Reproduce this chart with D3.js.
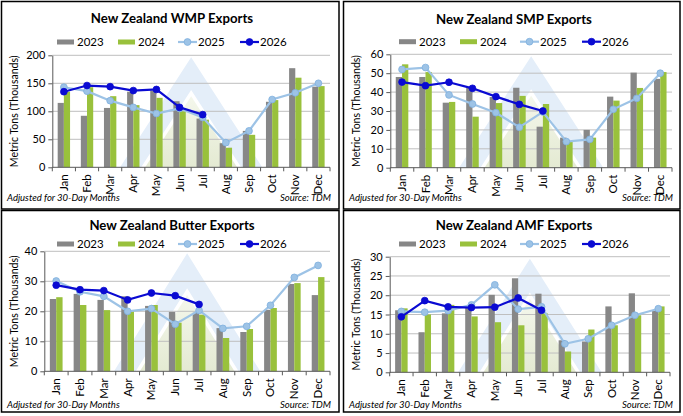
<!DOCTYPE html>
<html>
<head>
<meta charset="utf-8">
<script src="https://cdn.jsdelivr.net/npm/d3@7"></script>
<style>
  html, body { margin: 0; padding: 0; background: #fff; }
  svg { display: block; font-family: Lato, Carlito, Calibri, sans-serif; }
</style>
</head>
<body>
<svg id="chart" width="683" height="416"></svg>
<script>
// Data (thousand metric tons)
const months = ['Jan', 'Feb', 'Mar', 'Apr', 'May', 'Jun', 'Jul', 'Aug', 'Sep', 'Oct', 'Nov', 'Dec'];
const years = ['2023', '2024', '2025', '2026'];

const wmp2023 = [115, 92, 106, 135, 137, 118, 87, 43, 65, 117, 177, 144];
const wmp2024 = [135, 143, 127, 111, 124, 100, 85, 35, 58, 120, 160, 145];
const wmp2025 = [143, 136, 119, 107, 96, 105, 89, 44, 65, 121, 133, 150];
const wmp2026 = [135, 146, 144, 137, 139, 107, 94];

const smp2023 = [48, 48, 34.4, 42.5, 37.4, 42.3, 21.7, 15.9, 20, 37.6, 50.3, 47];
const smp2024 = [54.7, 50.6, 34.8, 27, 34.2, 38, 33.7, 13.8, 15.9, 35.5, 42.2, 50.6];
const smp2025 = [52, 53, 38.5, 33.7, 29.1, 21.4, 29.5, 13.8, 15, 30.9, 36.7, 50];
const smp2026 = [45.3, 43.4, 45.2, 42, 37.6, 33.5, 30];

const butter2023 = [24.1, 25.8, 23.8, 25, 21.8, 19.8, 19.5, 14.4, 13.1, 20.5, 29.1, 25.4];
const butter2024 = [24.7, 22.1, 20.4, 20, 22.1, 16.2, 18.9, 11.1, 14.1, 21.1, 29.4, 31.4];
const butter2025 = [30.1, 26.5, 25, 20, 20.9, 15.7, 20.3, 14.3, 15, 22, 31.3, 35.3];
const butter2026 = [28.7, 27.2, 26.9, 23.8, 26.1, 25.2, 22.3];

const amf2023 = [16.1, 10.4, 15.3, 16.7, 20.1, 24.4, 20.4, 8.3, 8, 17.1, 20.5, 16];
const amf2024 = [16.6, 15, 17.5, 14.5, 13, 12.2, 15.3, 5.4, 11.1, 12.2, 14.8, 17.1];
const amf2025 = [15.8, 15.6, 16, 17.5, 22.7, 16.4, 17, 7.4, 8.7, 12.2, 14.8, 16.5];
const amf2026 = [14.4, 18.6, 17, 16.8, 16.9, 19.3, 16.1];

const titles = ['New Zealand WMP Exports', 'New Zealand SMP Exports', 'New Zealand Butter Exports', 'New Zealand AMF Exports'];
const yTicks = [
  [0, 50, 100, 150, 200],
  [0, 10, 20, 30, 40, 50, 60],
  [0, 10, 20, 30, 40],
  [0, 5, 10, 15, 20, 25, 30]
];

const colors = { '2023': '#878787', '2024': '#99c13c', '2025': '#9dc3e6', '2026': '#0a0ad2' };

// panel frames and inner layout (relative to each panel)
const panels = [
  { x: 0, y: 0, w: 339, h: 209, left: 52.3, right: 330, top: 55.3, bottom: 167.3, titleY: 23, legendY: 42, footY: 201,
    series: [wmp2023, wmp2024, wmp2025, wmp2026] },
  { x: 342, y: 0, w: 338, h: 209, left: 48.3, right: 330, top: 54.3, bottom: 167.7, titleY: 24, legendY: 41.7, footY: 201,
    series: [smp2023, smp2024, smp2025, smp2026] },
  { x: 0, y: 209, w: 339, h: 203, left: 44.3, right: 330, top: 42.3, bottom: 162.3, titleY: 21, legendY: 35, footY: 198.5,
    series: [butter2023, butter2024, butter2025, butter2026] },
  { x: 342, y: 209, w: 338, h: 203, left: 47.7, right: 328, top: 47.7, bottom: 163.3, titleY: 20.5, legendY: 35, footY: 198.5,
    series: [amf2023, amf2024, amf2025, amf2026] }
];

const svg = d3.select('#chart');
const defs = svg.append('defs');
const grad = defs.append('linearGradient').attr('id', 'wmGreen')
  .attr('x1', 0).attr('y1', 1).attr('x2', 0).attr('y2', 0);
grad.append('stop').attr('offset', '0%').attr('stop-color', '#e4ead2');
grad.append('stop').attr('offset', '100%').attr('stop-color', '#f4f7ec');

panels.forEach((p, i) => {
  const g = svg.append('g').attr('transform', `translate(${p.x},${p.y})`);

  // frame
  g.append('rect')
    .attr('x', 1.5).attr('y', 1.5)
    .attr('width', p.w - 1.5).attr('height', p.h - 1.5)
    .attr('fill', '#fff').attr('stroke', '#000').attr('stroke-width', 1.5);

  const ticks = yTicks[i];
  const x = d3.scaleBand().domain(months).range([p.left, p.right]);
  const xs = d3.scaleBand().domain(['2023', '2024']).range([0, x.bandwidth()]).paddingOuter(0.87);
  const y = d3.scaleLinear().domain([0, ticks[ticks.length - 1]]).range([p.bottom, p.top]);

  // watermark
  const cx = (p.left + p.right) / 2;
  const pw = p.right - p.left;
  const ph = p.bottom - p.top - 2;
  const ow = 0.256 * pw, iw = 0.18 * pw;
  const ih = ph * iw / ow;
  g.append('path')
    .attr('d', `M${cx - ow},${p.bottom}L${cx},${p.bottom - ph}L${cx + ow},${p.bottom}Z` +
               `M${cx - iw},${p.bottom}L${cx},${p.bottom - ih}L${cx + iw},${p.bottom}Z`)
    .attr('fill', '#e4eef9').attr('fill-rule', 'evenodd');
  const gw = iw * 0.92, gh = ih * 0.92;
  g.append('path')
    .attr('d', `M${cx - gw},${p.bottom}L${cx},${p.bottom - gh}L${cx + gw},${p.bottom}Z`)
    .attr('fill', 'url(#wmGreen)');

  // gridlines
  g.append('g').selectAll('line')
    .data(ticks.slice(1))
    .join('line')
    .attr('x1', p.left).attr('x2', p.right)
    .attr('y1', d => y(d)).attr('y2', d => y(d))
    .attr('stroke', '#bfbfbf').attr('stroke-width', 1);

  // bars
  ['2023', '2024'].forEach((yr, k) => {
    g.append('g').selectAll('rect')
      .data(p.series[k])
      .join('rect')
      .attr('x', (d, j) => x(months[j]) + xs(yr))
      .attr('width', xs.bandwidth())
      .attr('y', d => y(d))
      .attr('height', d => y(0) - y(d))
      .attr('fill', colors[yr]);
  });

  // lines
  const line = d3.line()
    .x((d, j) => x(months[j]) + x.bandwidth() / 2)
    .y(d => y(d));
  [['2025', p.series[2], '#7fb0de'], ['2026', p.series[3], colors['2026']]].forEach(([yr, vals, edge]) => {
    g.append('path')
      .datum(vals)
      .attr('d', line)
      .attr('fill', 'none')
      .attr('stroke', colors[yr])
      .attr('stroke-width', 2.2);
    g.append('g').selectAll('circle')
      .data(vals)
      .join('circle')
      .attr('cx', (d, j) => x(months[j]) + x.bandwidth() / 2)
      .attr('cy', d => y(d))
      .attr('r', 3.4)
      .attr('fill', colors[yr])
      .attr('stroke', edge)
      .attr('stroke-width', 0.8);
  });

  // y axis
  const yAxis = g.append('g')
    .attr('transform', `translate(${p.left},0)`)
    .call(d3.axisLeft(y).tickValues(ticks).tickSize(4).tickPadding(3).tickSizeOuter(0));
  yAxis.select('.domain').attr('stroke', '#595959');
  yAxis.selectAll('.tick line').attr('stroke', '#595959');
  yAxis.selectAll('.tick text')
    .attr('font-family', 'Lato, Carlito, Calibri, sans-serif')
    .attr('font-size', 11).attr('fill', '#000');

  // x axis
  g.append('line')
    .attr('x1', p.left).attr('x2', p.right)
    .attr('y1', p.bottom).attr('y2', p.bottom)
    .attr('stroke', '#595959');
  g.append('g').selectAll('line')
    .data(months.concat(['end']))
    .join('line')
    .attr('x1', (d, j) => p.left + j * x.step())
    .attr('x2', (d, j) => p.left + j * x.step())
    .attr('y1', p.bottom).attr('y2', p.bottom + 4)
    .attr('stroke', '#595959');
  g.append('g').selectAll('text')
    .data(months)
    .join('text')
    .attr('transform', d => `translate(${x(d) + x.bandwidth() / 2 + 4},${p.bottom + 7}) rotate(-90)`)
    .attr('text-anchor', 'end')
    .attr('font-size', 11.5)
    .text(d => d);

  // y label
  g.append('text')
    .attr('transform', `translate(17.5,${(p.top + p.bottom) / 2}) rotate(-90)`)
    .attr('text-anchor', 'middle')
    .attr('font-size', 10.5)
    .text('Metric Tons (Thousands)');

  // title
  g.append('text')
    .attr('x', 172).attr('y', p.titleY)
    .attr('text-anchor', 'middle')
    .attr('font-size', 13.2).attr('font-weight', 'bold')
    .text(titles[i]);

  // legend
  const lg = g.append('g').attr('transform', `translate(0,${p.legendY})`);
  const items = [
    { yr: '2023', x0: 57, type: 'bar' },
    { yr: '2024', x0: 118, type: 'bar' },
    { yr: '2025', x0: 178, type: 'line' },
    { yr: '2026', x0: 240, type: 'line' }
  ];
  items.forEach(it => {
    if (it.type === 'bar') {
      lg.append('rect').attr('x', it.x0).attr('y', -2.5).attr('width', 17).attr('height', 5)
        .attr('fill', colors[it.yr]);
    } else {
      lg.append('line').attr('x1', it.x0).attr('x2', it.x0 + 19).attr('y1', 0).attr('y2', 0)
        .attr('stroke', colors[it.yr]).attr('stroke-width', 2.2);
      lg.append('circle').attr('cx', it.x0 + 9.5).attr('cy', 0).attr('r', 3.4)
        .attr('fill', colors[it.yr]).attr('stroke', it.yr === '2025' ? '#7fb0de' : colors[it.yr]).attr('stroke-width', 0.8);
    }
    lg.append('text').attr('x', it.x0 + 20).attr('y', 4)
      .attr('font-size', 11.5).text(it.yr);
  });

  // footer
  g.append('text')
    .attr('x', 7).attr('y', p.footY)
    .attr('font-size', 9.5).attr('font-style', 'italic')
    .text('Adjusted for 30-Day Months');
  g.append('text')
    .attr('x', 331).attr('y', p.footY)
    .attr('text-anchor', 'end')
    .attr('font-size', 9.5).attr('font-style', 'italic')
    .text('Source: TDM');
});
</script>
</body>
</html>
